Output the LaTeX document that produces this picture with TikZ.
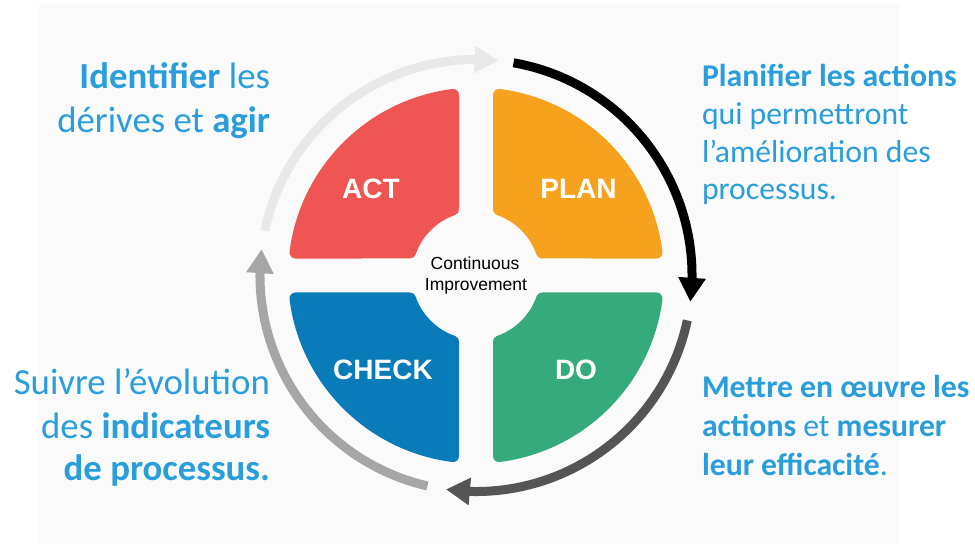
\documentclass[tikz,border=0pt]{standalone}
\usepackage{fontspec}
\setmainfont{Carlito}
\newfontfamily\arialf{Liberation Sans}
\usetikzlibrary{arrows.meta,bending}
\definecolor{bgc}{HTML}{FAFAFA}
\definecolor{actc}{HTML}{EF5552}
\definecolor{planc}{HTML}{F6A21E}
\definecolor{checkc}{HTML}{087BB8}
\definecolor{doclr}{HTML}{35AA7D}
\definecolor{txtblue}{HTML}{2A9EDB}
\definecolor{ga}{HTML}{E8E8E8}
\definecolor{gb}{HTML}{000000}
\definecolor{gc}{HTML}{555555}
\definecolor{gd}{HTML}{A6A6A6}
\begin{document}
\begin{tikzpicture}[x=1pt,y=1pt,
  quad/.style={line width=12pt,line join=round},
  ring/.style={line width=9pt,-{Triangle[width=26pt,length=24pt]}},
  side/.style={inner sep=0pt,outer sep=0pt,text=txtblue},
  big/.style={side,font=\fontsize{36.8}{44}\selectfont},
  small/.style={side,font=\fontsize{31.7}{38}\selectfont},
  qlabel/.style={inner sep=0pt,text=white,font=\arialf\bfseries\fontsize{28}{32}\selectfont,anchor=base},
  cilabel/.style={inner sep=0pt,text=black,font=\arialf\fontsize{17.5}{21}\selectfont,anchor=base}
]
\useasboundingbox (0,0) rectangle (975,544);
\fill[white] (0,0) rectangle (975,544);
\fill[bgc] (39,0) rectangle (899,541);
\coordinate (C) at (476,268.5);
\begin{scope}[shift={(C)}]
\def\R{182}\def\g{23}\def\rr{70}
% ACT
\filldraw[quad,fill=actc,draw=actc] ({180-asin(\g/\R)}:\R) arc[start angle={180-asin(\g/\R)},end angle={90+asin(\g/\R)},radius=\R] -- ({90+asin(\g/\rr)}:\rr) arc[start angle={90+asin(\g/\rr)},end angle={180-asin(\g/\rr)},radius=\rr] -- cycle;
% PLAN
\filldraw[quad,fill=planc,draw=planc] ({90-asin(\g/\R)}:\R) arc[start angle={90-asin(\g/\R)},end angle={asin(\g/\R)},radius=\R] -- ({asin(\g/\rr)}:\rr) arc[start angle={asin(\g/\rr)},end angle={90-asin(\g/\rr)},radius=\rr] -- cycle;
% CHECK
\filldraw[quad,fill=checkc,draw=checkc] ({180+asin(\g/\R)}:\R) arc[start angle={180+asin(\g/\R)},end angle={270-asin(\g/\R)},radius=\R] -- ({270-asin(\g/\rr)}:\rr) arc[start angle={270-asin(\g/\rr)},end angle={180+asin(\g/\rr)},radius=\rr] -- cycle;
% DO
\filldraw[quad,fill=doclr,draw=doclr] ({270+asin(\g/\R)}:\R) arc[start angle={270+asin(\g/\R)},end angle={360-asin(\g/\R)},radius=\R] -- ({360-asin(\g/\rr)}:\rr) arc[start angle={360-asin(\g/\rr)},end angle={270+asin(\g/\rr)},radius=\rr] -- cycle;
% cycle arrows
\coordinate (a1s) at (168:216);
\coordinate (b1s) at (80:216);
\coordinate (c1s) at (-12:216);
\coordinate (d1s) at (-103:216);
\draw[ring,color=ga] (a1s) arc[start angle=168,end angle=84,radius=216];
\draw[ring,color=gb] (b1s) arc[start angle=80,end angle=-7,radius=216];
\draw[ring,color=gc] (c1s) arc[start angle=-12,end angle=-98,radius=216];
\draw[ring,color=gd] (d1s) arc[start angle=-103,end angle=-187,radius=216];
\end{scope}
% quadrant labels
\node[qlabel] (act) at (371,345) {ACT};
\node[qlabel] (plan) at (578.5,345) {PLAN};
\node[qlabel] (check) at (383,164) {CHECK};
\node[qlabel] (do) at (576,164) {DO};
\node[cilabel] (ci1) at (475,274) {Continuous};
\node[cilabel] (ci2) at (476,253) {Improvement};
% side texts
\node[big,anchor=base east] (tl1) at (270,455) {\textbf{Identifier} les};
\node[big,anchor=base east] (tl2) at (270,411) {dérives et \textbf{agir}};
\node[small,anchor=base west] (tr1) at (702,457) {\textbf{Planifier les actions}};
\node[small,anchor=base west] (tr2) at (702,419) {qui permettront};
\node[small,anchor=base west] (tr3) at (702,381) {l’amélioration des};
\node[small,anchor=base west] (tr4) at (702,344) {processus.};
\node[big,anchor=base east] (bl1) at (270,149) {Suivre l’évolution};
\node[big,anchor=base east] (bl2) at (270,106) {des \textbf{indicateurs}};
\node[big,anchor=base east] (bl3) at (270,64) {\textbf{de processus.}};
\node[small,anchor=base west] (br1) at (702,146) {\textbf{Mettre en œuvre les}};
\node[small,anchor=base west] (br2) at (702,107) {\textbf{actions} et \textbf{mesurer}};
\node[small,anchor=base west] (br3) at (702,69) {\textbf{leur efficacité}.};
\end{tikzpicture}
\end{document}
